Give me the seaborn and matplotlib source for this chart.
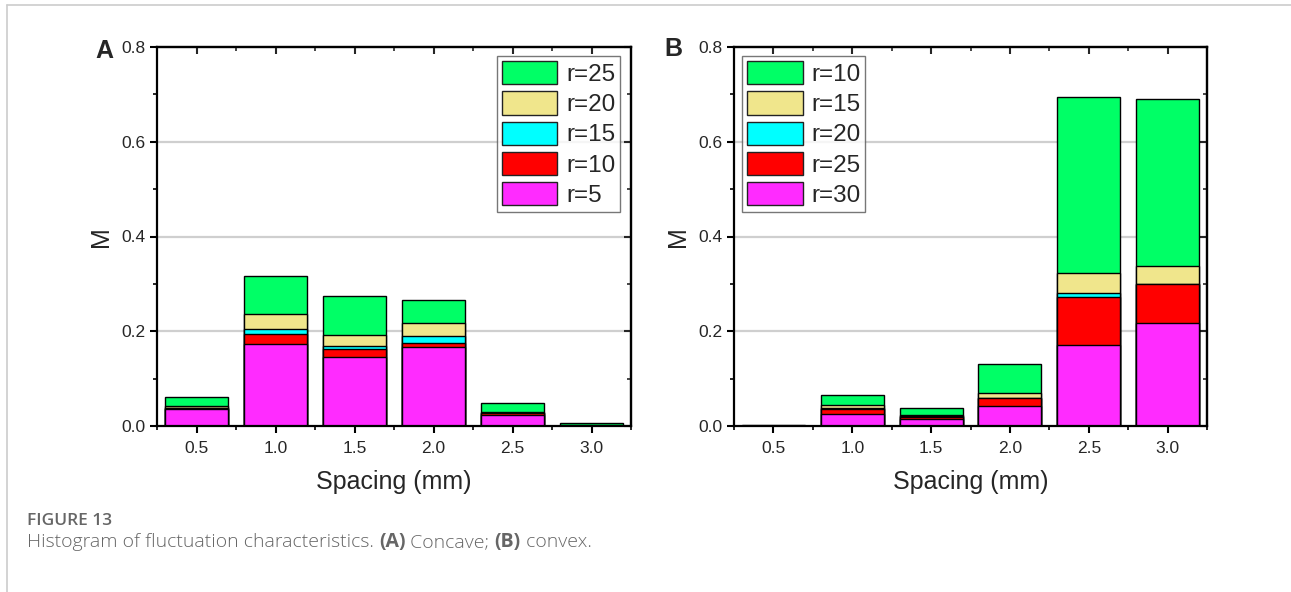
import numpy as np
import pandas as pd
import seaborn as sns
import matplotlib.pyplot as plt
from matplotlib.patches import Patch
from matplotlib.lines import Line2D
from matplotlib.ticker import MultipleLocator

# Spacing values on the x axis
spacing = [0.5, 1.0, 1.5, 2.0, 2.5, 3.0]

# Panel A (concave), segment heights bottom -> top
a_r5 = [0.036, 0.174, 0.146, 0.166, 0.024, 0.001]
a_r10 = [0.002, 0.020, 0.017, 0.010, 0.003, 0.000]
a_r15 = [0.001, 0.011, 0.005, 0.015, 0.001, 0.000]
a_r20 = [0.004, 0.031, 0.024, 0.026, 0.001, 0.001]
a_r25 = [0.019, 0.081, 0.082, 0.048, 0.020, 0.004]
a_labels = ['r=5', 'r=10', 'r=15', 'r=20', 'r=25']

# Panel B (convex), segment heights bottom -> top
b_r30 = [0.001, 0.026, 0.014, 0.042, 0.171, 0.218]
b_r25 = [0.000, 0.010, 0.006, 0.017, 0.101, 0.081]
b_r20 = [0.000, 0.001, 0.001, 0.001, 0.009, 0.001]
b_r15 = [0.000, 0.008, 0.003, 0.010, 0.043, 0.038]
b_r10 = [0.002, 0.020, 0.015, 0.061, 0.371, 0.352]
b_labels = ['r=30', 'r=25', 'r=20', 'r=15', 'r=10']

# colours from bottom segment to top segment
colors = ['#ff2bff', '#ff0000', '#00ffff', '#f0e68c', '#00ff66']

sns.set_theme(style='white')
plt.rcParams['font.family'] = ['Liberation Sans', 'DejaVu Sans']

fig = plt.figure(figsize=(12.91, 5.92), dpi=100)
W, H = 1291, 592


def px_axes(l, r, t, b):
    return fig.add_axes([l / W, 1 - b / H, (r - l) / W, (b - t) / H])


def draw_panel(ax, layers, labels, legend_loc, legend_anchor):
    cum = np.cumsum(np.array(layers), axis=0)
    # draw cumulative totals from the top layer down so segments overlap
    for i in range(len(layers) - 1, -1, -1):
        df = pd.DataFrame({'Spacing': spacing, 'M': cum[i]})
        sns.barplot(data=df, x='Spacing', y='M', native_scale=True, color=colors[i],
                    saturation=1, edgecolor='black', linewidth=1.0, width=0.8,
                    ax=ax, zorder=2)
    ax.set_xlim(0.25, 3.25)
    ax.set_ylim(0, 0.8)
    ax.set_xticks(spacing)
    ax.set_xticklabels([f'{s:.1f}' for s in spacing])
    ax.xaxis.set_minor_locator(MultipleLocator(0.25))
    ax.set_yticks([0.0, 0.2, 0.4, 0.6, 0.8])
    ax.set_yticklabels(['0.0', '0.2', '0.4', '0.6', '0.8'])
    ax.yaxis.set_minor_locator(MultipleLocator(0.1))
    for y in [0.2, 0.4, 0.6]:
        ax.axhline(y, color='#cfcfcf', lw=1.6, zorder=0)
    for sp in ax.spines.values():
        sp.set_visible(True)
        sp.set_color('black')
        sp.set_linewidth(1.6)
    ax.tick_params(which='major', direction='out', length=5, width=1.5,
                   labelsize=12.5, color='black', pad=3, bottom=True, left=True)
    ax.tick_params(which='minor', direction='out', length=3, width=1.2,
                   color='black', bottom=True, left=True)
    ax.tick_params(axis='x', which='major', pad=6)
    ax.set_xlabel('Spacing (mm)', fontsize=18, labelpad=10)
    ax.set_ylabel('M', fontsize=18, labelpad=6)

    # inward ticks on top and right
    top = ax.secondary_xaxis('top')
    top.set_xticks(spacing)
    top.xaxis.set_minor_locator(MultipleLocator(0.25))
    top.tick_params(which='major', direction='in', length=5, width=1.5, labeltop=False)
    top.tick_params(which='minor', direction='in', length=3, width=1.2)
    top.spines['top'].set_linewidth(1.6)
    right = ax.secondary_yaxis('right')
    right.set_yticks([0.0, 0.2, 0.4, 0.6, 0.8])
    right.yaxis.set_minor_locator(MultipleLocator(0.1))
    right.tick_params(which='major', direction='in', length=5, width=1.5, labelright=False)
    right.tick_params(which='minor', direction='in', length=3, width=1.2)
    right.spines['right'].set_linewidth(1.6)

    handles = [Patch(facecolor=colors[i], edgecolor='#222222', linewidth=1.0, label=labels[i])
               for i in range(len(labels) - 1, -1, -1)]
    leg = ax.legend(handles=handles, loc=legend_loc, bbox_to_anchor=legend_anchor,
                    fontsize=17.5, frameon=True, fancybox=False, borderaxespad=0,
                    handlelength=2.3, handleheight=1.1, labelspacing=0.22,
                    handletextpad=0.35, borderpad=0.2)
    leg.get_frame().set_edgecolor('#555555')
    leg.get_frame().set_linewidth(1.0)


axA = px_axes(157, 631, 47, 426)
draw_panel(axA, [a_r5, a_r10, a_r15, a_r20, a_r25], a_labels, 'upper right', (0.977, 0.976))
axB = px_axes(734, 1207, 47, 426)
draw_panel(axB, [b_r30, b_r25, b_r20, b_r15, b_r10], b_labels, 'upper left', (0.017, 0.976))

fig.text(104 / W, 1 - 51 / H, 'A', fontsize=18, fontweight='bold', ha='center', va='center')
fig.text(673 / W, 1 - 49.5 / H, 'B', fontsize=18, fontweight='bold', ha='center', va='center')

# outer frame lines
fig.add_artist(Line2D([7 / W, 7 / W], [0, 1 - 5 / H], color='#cccccc', lw=1.2))
fig.add_artist(Line2D([7 / W, 1], [1 - 5 / H, 1 - 5 / H], color='#cccccc', lw=1.2))

# caption
cap_font = ['Open Sans', 'DejaVu Sans']
fig.text(27 / W, 1 - 525 / H, 'FIGURE 13', fontsize=12.5, fontweight='semibold',
         color='#666666', family=cap_font, va='baseline')
parts = [('Histogram of fluctuation characteristics. ', 'light'), ('(A)', 'bold'),
         (' Concave; ', 'light'), ('(B)', 'bold'), (' convex.', 'light')]
renderer = fig.canvas.get_renderer()
x = 27 / W
for txt, wt in parts:
    t = fig.text(x, 1 - 547 / H, txt, fontsize=14, fontweight=wt, color='#666666',
                 family=cap_font, va='baseline')
    bb = t.get_window_extent(renderer=renderer)
    x += bb.width / W

fig.savefig('out.png', dpi=100)
